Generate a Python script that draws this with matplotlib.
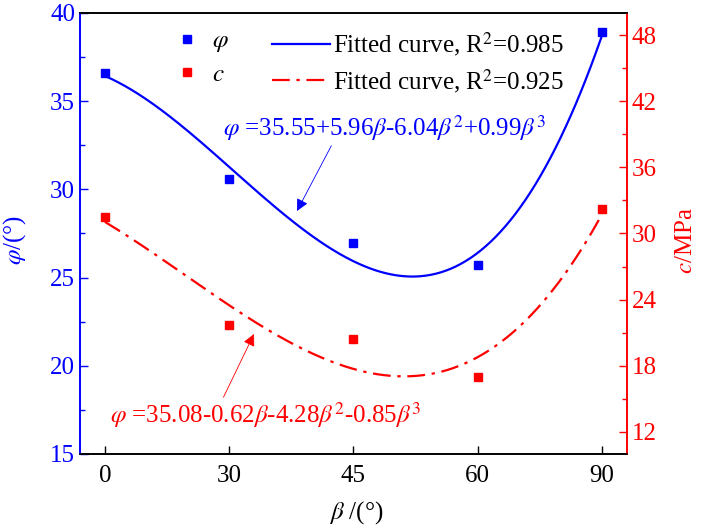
import matplotlib
matplotlib.use('Agg')
import matplotlib.pyplot as plt
import numpy as np
from matplotlib.ticker import MultipleLocator

plt.rcParams['font.family'] = ['Liberation Serif', 'DejaVu Serif']
plt.rcParams['mathtext.fontset'] = 'stix'

# data
beta_labels = ['0', '30', '45', '60', '90']
phi = [36.6, 30.6, 26.94, 25.73, 38.9]     # friction angle, deg
c = [31.5, 21.7, 20.4, 17.0, 32.2]         # cohesion, MPa

pos = np.arange(len(beta_labels))

# cubic fits over the category positions
p_phi = np.polyfit(pos, phi, 3)
p_c = np.polyfit(pos, c, 3)
xs = np.linspace(pos[0], pos[-1], 300)

blue = '#0000ff'
red = '#ff0000'
fs = 18
W, H = 702, 530

fig = plt.figure(figsize=(7.02, 5.30), dpi=100)
ax = fig.add_axes([0.114, 0.1434, 0.779, 0.8321])
ax2 = ax.twinx()

h1, = ax.plot(pos, phi, 's', color=blue, markersize=6, label=r'$\varphi$')
h3, = ax.plot(xs, np.polyval(p_phi, xs), '-', color=blue, lw=1.6,
              label=r'Fitted curve, R$^2$=0.985')
h2, = ax2.plot(pos, c, 's', color=red, markersize=6, label=r'$c$')
h4, = ax2.plot(xs, np.polyval(p_c, xs), color=red, lw=1.6,
               linestyle=(0, (8, 3, 1.5, 3)), label=r'Fitted curve, R$^2$=0.925')

ax.set_xlim(-0.2, 4.2)
ax.set_ylim(15, 40)
ax2.set_ylim(10, 50)
ax.set_xticks(pos)
ax.set_xticklabels(beta_labels)
ax.yaxis.set_major_locator(MultipleLocator(5))
ax.yaxis.set_minor_locator(MultipleLocator(2.5))
ax2.set_yticks(np.arange(12, 49, 6))
ax2.yaxis.set_minor_locator(MultipleLocator(3))

ax.tick_params(axis='x', direction='in', length=6, width=1, labelsize=fs, pad=8)
ax.tick_params(axis='y', which='major', direction='in', length=6, width=1,
               colors=blue, labelsize=fs)
ax.tick_params(axis='y', which='minor', direction='in', length=3.5, width=1, colors=blue)
ax2.tick_params(axis='y', which='major', direction='in', length=6, width=1,
                colors=red, labelsize=fs)
ax2.tick_params(axis='y', which='minor', direction='in', length=3.5, width=1, colors=red)

for a in (ax, ax2):
    a.spines['left'].set_color(blue)
    a.spines['right'].set_color(red)
    a.spines['bottom'].set_color('black')
    a.spines['top'].set_color('black')
    for s in a.spines.values():
        s.set_linewidth(1.2)

ax.set_ylabel(r'$\varphi$/(°)', color=blue, fontsize=fs)
ax2.set_ylabel(r'$c$/MPa', color=red, fontsize=fs)
ax.set_xlabel(r'$\beta$ /(°)', fontsize=fs)
ax.yaxis.set_label_coords(-0.095, 0.485)
ax2.yaxis.set_label_coords(1.088, 0.485)
ax.xaxis.set_label_coords(0.505, -0.102)

# legend: markers column and fitted-line column
leg1 = ax.legend([h1, h2], [h1.get_label(), h2.get_label()],
                 frameon=False, fontsize=fs, loc='upper left',
                 bbox_to_anchor=(174 / W, 1 - 30 / H), bbox_transform=fig.transFigure,
                 borderpad=0, borderaxespad=0,
                 handlelength=1.0, handletextpad=0.5, labelspacing=0.35)
ax.add_artist(leg1)
leg2 = ax.legend([h3, h4], [h3.get_label(), h4.get_label()],
                 frameon=False, fontsize=fs, loc='upper left',
                 bbox_to_anchor=(272 / W, 1 - 30 / H), bbox_transform=fig.transFigure,
                 borderpad=0, borderaxespad=0,
                 handlelength=2.3, handletextpad=0.15, labelspacing=0.35)

ax.annotate(r'$\varphi$ =35.55+5.96$\beta$-6.04$\beta^2$+0.99$\beta^3$',
            xy=(297, H - 211), xycoords='figure pixels',
            xytext=(223, H - 128), textcoords='figure pixels',
            color=blue, fontsize=fs, va='center', ha='left',
            arrowprops=dict(arrowstyle='-|>', color=blue, lw=0.6,
                            mutation_scale=18, shrinkA=0, shrinkB=0,
                            relpos=(0.34, 0.0)))

ax.annotate(r'$\varphi$ =35.08-0.62$\beta$-4.28$\beta^2$-0.85$\beta^3$',
            xy=(254, H - 334), xycoords='figure pixels',
            xytext=(110, H - 415), textcoords='figure pixels',
            color=red, fontsize=fs, va='center', ha='left',
            arrowprops=dict(arrowstyle='-|>', color=red, lw=0.6,
                            mutation_scale=18, shrinkA=0, shrinkB=0,
                            relpos=(0.36, 1.0)))

fig.savefig('out.png', dpi=100)
